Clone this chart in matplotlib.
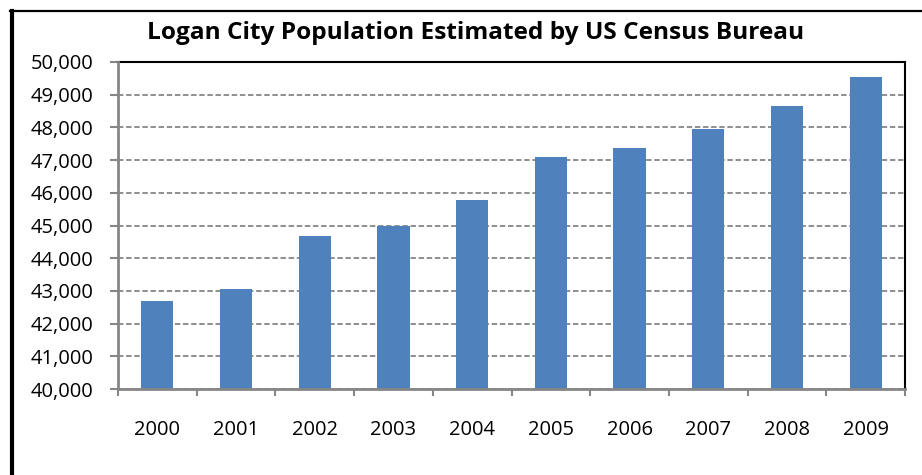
import matplotlib.pyplot as plt
from matplotlib.lines import Line2D
from matplotlib.ticker import FuncFormatter, FixedLocator

# Logan City population
years = ["2000", "2001", "2002", "2003", "2004",
         "2005", "2006", "2007", "2008", "2009"]
population = [42690, 43050, 44670, 44990, 45770,
              47090, 47360, 47940, 48650, 49530]
y_ticks = list(range(40000, 50001, 1000))

BAR_COLOR = "#4F81BD"
AXIS_GREY = "#868686"

plt.rcParams["font.family"] = ["Open Sans", "DejaVu Sans"]

fig = plt.figure(figsize=(9.22, 4.75), dpi=100)
ax = fig.add_axes([118 / 922, 86 / 475, (905 - 118) / 922, (389 - 62) / 475])

x = list(range(len(years)))
ax.bar(x, population, width=0.41, color=BAR_COLOR, zorder=3)

ax.set_xlim(-0.5, len(years) - 0.5)
ax.set_ylim(y_ticks[0], y_ticks[-1])

ax.set_yticks(y_ticks)
ax.yaxis.set_major_formatter(FuncFormatter(lambda v, _: f"{int(v):,}"))
ax.set_xticks(x)
ax.set_xticklabels(years)
ax.xaxis.set_minor_locator(FixedLocator([i - 0.5 for i in range(len(years) + 1)]))

ax.tick_params(axis="x", which="major", length=0, pad=22, labelsize=14.5)
ax.tick_params(axis="x", which="minor", length=5, width=1.5, color=AXIS_GREY)
ax.tick_params(axis="y", length=6, width=1.5, color=AXIS_GREY, pad=12, labelsize=14.5)

ax.grid(axis="y", color=AXIS_GREY, linestyle=(0, (3, 1.5)), linewidth=1.3, zorder=1)

ax.spines["left"].set_color(AXIS_GREY)
ax.spines["bottom"].set_color(AXIS_GREY)
ax.spines["left"].set_linewidth(2)
ax.spines["bottom"].set_linewidth(2)
ax.spines["top"].set_color("black")
ax.spines["right"].set_color("black")
ax.spines["top"].set_linewidth(1.5)
ax.spines["right"].set_linewidth(1.5)
for s in ("left", "bottom"):
    ax.spines[s].set_zorder(4)

fig.text(476 / 922, 1 - 33 / 475, "Logan City Population Estimated by US Census Bureau",
         ha="center", va="center", fontsize=17.6, fontweight="bold")

# outer chart frame (cropped on the right and bottom)
fig.add_artist(Line2D([12 / 922, 12 / 922], [0, 1 - 11 / 475], color="black",
                      linewidth=3, transform=fig.transFigure))
fig.add_artist(Line2D([10 / 922, 1], [1 - 11 / 475, 1 - 11 / 475], color="black",
                      linewidth=1.6, transform=fig.transFigure))

fig.savefig("out.png", dpi=100)
plt.close(fig)
